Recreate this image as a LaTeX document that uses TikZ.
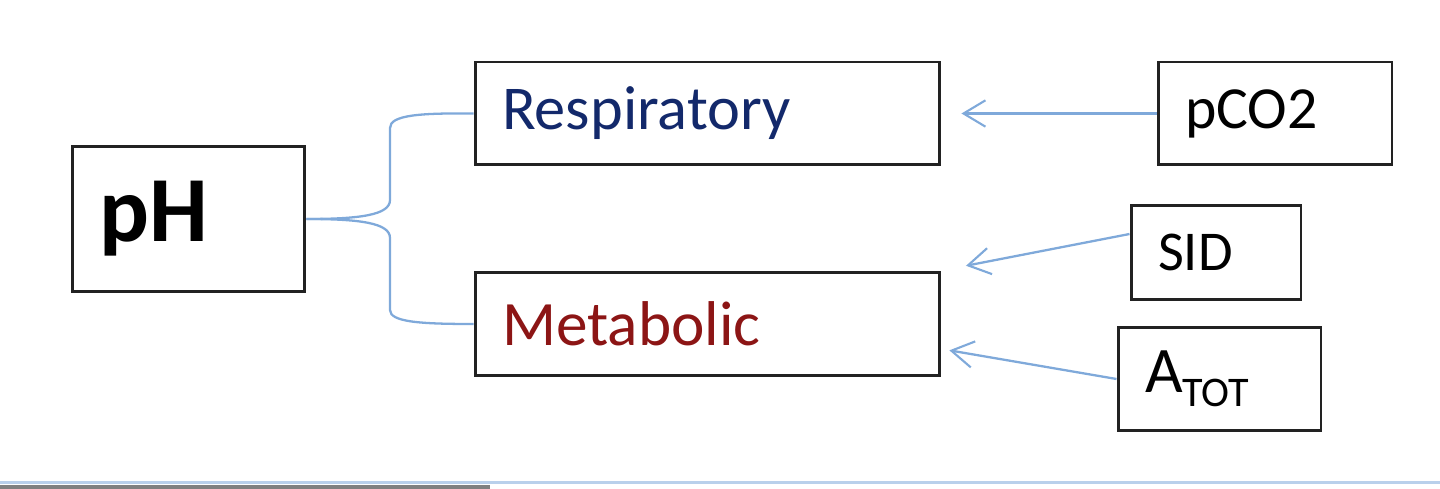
\documentclass[tikz,border=0pt]{standalone}
\usepackage{fontspec}
\setmainfont{Carlito}
\usepackage{tikz}
\usetikzlibrary{arrows.meta}

\definecolor{respblue}{HTML}{13296B}
\definecolor{metred}{HTML}{8C1515}
\definecolor{linkblue}{HTML}{7FA9DA}
\definecolor{boxgrey}{HTML}{222222}

\tikzset{
  termbox/.style={draw=boxgrey,line width=1.7pt,inner xsep=0.54cm,inner ysep=0pt,align=left},
  link/.style={draw=linkblue,line width=1.3pt},
  feed/.style={link,-{Straight Barb[length=12.5pt,width=15pt,line width=1.2pt]}}
}

\begin{document}
\begin{tikzpicture}[x=0.02cm,y=-0.02cm]
  \useasboundingbox (0,0) rectangle (1440,489);
  \node[termbox,minimum width=4.66cm,minimum height=2.92cm,text width=3.58cm] (pH) at (188.5,219) {\fontsize{53}{58}\selectfont\bfseries pH};
  \node[termbox,minimum width=9.3cm,minimum height=2.06cm,text width=8.22cm,text=respblue] (Resp) at (707.5,113.5) {\fontsize{35.5}{42}\selectfont Respiratory};
  \node[termbox,minimum width=9.3cm,minimum height=2.08cm,text width=8.22cm,text=metred] (Metab) at (707.5,324) {\fontsize{36}{42}\selectfont Metabolic};
  \node[termbox,minimum width=4.68cm,minimum height=2.06cm,text width=3.6cm] (pCO2) at (1275,113.5) {\fontsize{34}{40}\selectfont pCO2};
  \node[termbox,minimum width=3.4cm,minimum height=1.9cm,text width=2.32cm] (SID) at (1216,252.5) {\fontsize{32}{38}\selectfont SID};
  \node[termbox,minimum width=4.06cm,minimum height=2.08cm,text width=2.98cm] (ATOT) at (1219.5,379) {\fontsize{37}{43}\selectfont A\raisebox{-8pt}{\fontsize{24}{28}\selectfont TOT}};
  \draw[link] (pH.east) .. controls (360,219) and (390,215) .. (390,200) -- (390,128) .. controls (390,115) and (420,113) .. (Resp.west);
  \draw[link] (pH.east) .. controls (360,219) and (390,223) .. (390,238) -- (390,310) .. controls (390,322) and (420,324) .. (Metab.west);
  \draw[feed,shorten >=0.4cm] (pCO2.west) -- (Resp.east);
  \draw[feed,shorten >=0.5cm] ([yshift=0.37cm]SID.west) -- (Metab.north east);
  \draw[feed,shorten >=0.16cm] (ATOT.west) -- ([yshift=-0.5cm]Metab.east);
  % bottom edge of the window
  \fill[color=linkblue!55] (0,480.5) rectangle (1440,483.5);
  \fill[color=gray] (0,485) rectangle (490,489);
\end{tikzpicture}
\end{document}
